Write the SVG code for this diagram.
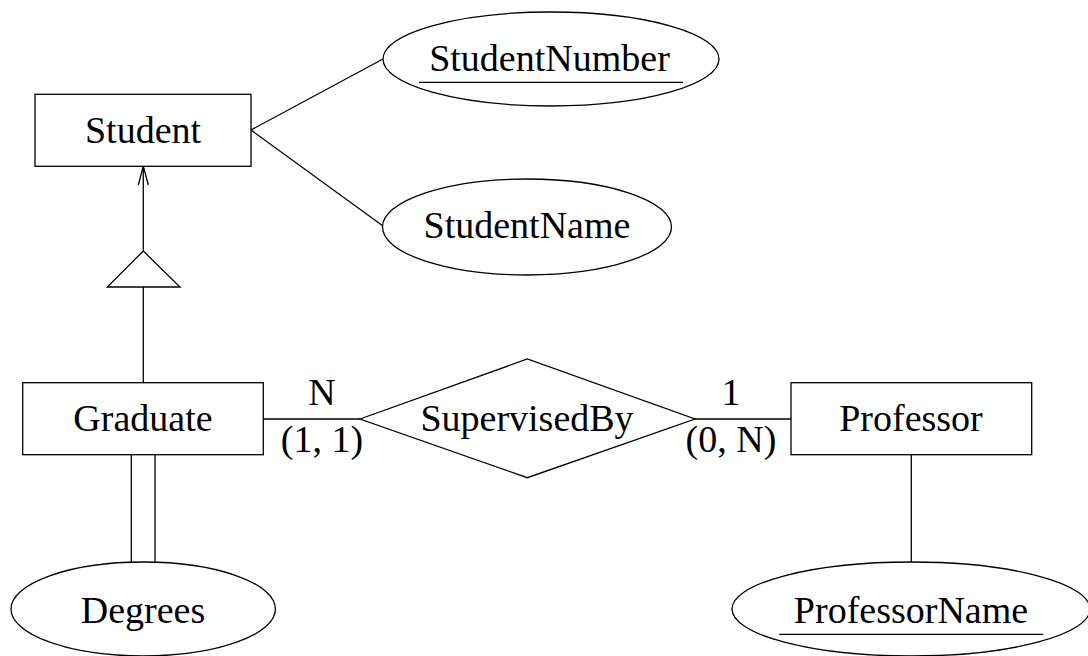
<svg xmlns="http://www.w3.org/2000/svg" width="1088" height="656" viewBox="0 0 1088 656">
<style>
.s{fill:#fff;stroke:#000;stroke-width:1.3}
.l{fill:none;stroke:#000;stroke-width:1.3}
text{font-family:"Liberation Serif","Times New Roman",serif;font-size:38px;fill:#000;text-anchor:middle}
.u{text-decoration:underline}
</style>
<rect width="1088" height="656" fill="#fff"/>
<g id="connectors">
<line class="l" x1="251" y1="130" x2="383" y2="59"/>
<line class="l" x1="251" y1="130" x2="383" y2="226"/>
<line class="l" x1="143.3" y1="251" x2="143.3" y2="166"/>
<polyline class="l" points="138.3,185 143.3,166 148.3,185"/>
<line class="l" x1="143.3" y1="287" x2="143.3" y2="383"/>
<line class="l" x1="131.3" y1="455" x2="131.3" y2="562"/>
<line class="l" x1="155" y1="455" x2="155" y2="562"/>
<line class="l" x1="263" y1="419" x2="360" y2="419"/>
<line class="l" x1="695" y1="419" x2="791" y2="419"/>
<line class="l" x1="911.3" y1="455" x2="911.3" y2="562"/>
<text x="322" y="405">N</text>
<text x="322" y="452">(1, 1)</text>
<text x="731" y="405">1</text>
<text x="731" y="452">(0, N)</text>
</g>
<g id="isa">
<polygon class="s" points="143.3,251 107.3,287 180,287"/>
</g>
<g id="student">
<rect class="s" x="35" y="94.3" width="216" height="72"/>
<text x="143" y="142.7">Student</text>
</g>
<g id="studentnumber">
<ellipse class="s" cx="551" cy="59" rx="168" ry="47"/>
<text x="549.5" y="70.7">StudentNumber</text>
<line class="l" x1="419" y1="82.3" x2="683" y2="82.3"/>
</g>
<g id="studentname">
<ellipse class="s" cx="527" cy="227" rx="144.5" ry="48"/>
<text x="527" y="238.3">StudentName</text>
</g>
<g id="graduate">
<rect class="s" x="22.7" y="382.7" width="240.6" height="72"/>
<text x="143" y="430.7">Graduate</text>
</g>
<g id="supervisedby">
<polygon class="s" points="360,419 527.3,359 695,419 527.3,477.7"/>
<text x="527" y="430.7">SupervisedBy</text>
</g>
<g id="professor">
<rect class="s" x="791" y="382.7" width="240.7" height="72"/>
<text x="911" y="430.7">Professor</text>
</g>
<g id="degrees">
<ellipse class="s" cx="143.2" cy="609" rx="132.2" ry="47"/>
<text x="143" y="623.3">Degrees</text>
</g>
<g id="professorname">
<ellipse class="s" cx="911" cy="609" rx="179" ry="47"/>
<text x="911" y="622.7">ProfessorName</text>
<line class="l" x1="779.3" y1="634.3" x2="1043.3" y2="634.3"/>
</g>
</svg>
